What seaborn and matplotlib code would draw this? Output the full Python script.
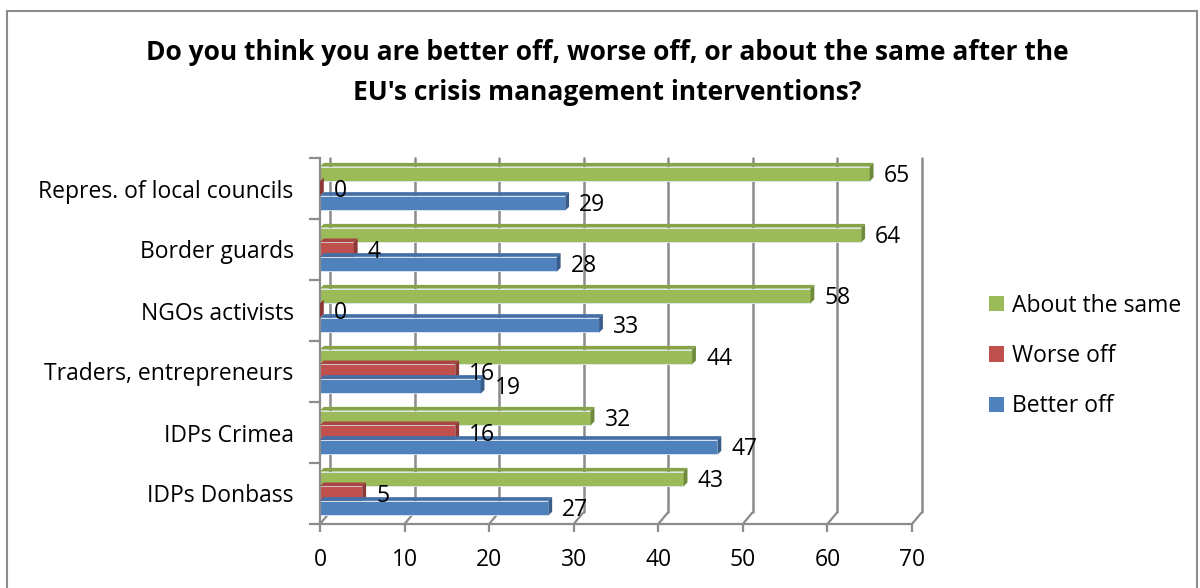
import numpy as np
import pandas as pd
import matplotlib
matplotlib.use("Agg")
import matplotlib.pyplot as plt
from matplotlib.patches import Polygon, Rectangle
import seaborn as sns

# Survey groups (top to bottom) and share of answers per group (%)
groups = ["Repres. of local councils", "Border guards", "NGOs activists",
          "Traders, entrepreneurs", "IDPs Crimea", "IDPs Donbass"]
about_same = [65, 64, 58, 44, 32, 43]
worse_off = [0, 4, 0, 16, 16, 5]
better_off = [29, 28, 33, 19, 47, 27]
answers = ["About the same", "Worse off", "Better off"]
x_ticks = [0, 10, 20, 30, 40, 50, 60, 70]

face = {"About the same": "#9BBB59", "Worse off": "#C0504D", "Better off": "#4F81BD"}
topc = {"About the same": "#86A34A", "Worse off": "#A84542", "Better off": "#426FA6"}
dark = {"About the same": "#6E8A3A", "Worse off": "#8C3836", "Better off": "#385D8A"}

df = pd.DataFrame({
    "group": groups * 3,
    "answer": [answers[0]] * 6 + [answers[1]] * 6 + [answers[2]] * 6,
    "value": about_same + worse_off + better_off,
})

sns.set_theme(style="white")
plt.rcParams["font.family"] = ["Open Sans", "DejaVu Sans"]
plt.rcParams["text.color"] = "black"
plt.rcParams["xtick.labelcolor"] = "black"
plt.rcParams["ytick.labelcolor"] = "black"

FS = 16.5

fig = plt.figure(figsize=(12, 5.88), dpi=100)
ax = fig.add_axes([320 / 1200, 1 - 524 / 588, 592 / 1200, 366 / 588])

sns.barplot(data=df, y="group", x="value", hue="answer", hue_order=answers,
            order=groups, palette=face, orient="h", width=0.72, gap=0,
            saturation=1, edgecolor="#dfe8f2", linewidth=0.6, ax=ax,
            legend=True)

ax.set_xlim(0, 70)
ax.set_ylim(len(groups) - 0.5, -0.5)
ax.set_xlabel("")
ax.set_ylabel("")

# pseudo-3D depth offsets (data units along x, axes fraction along y)
px_per_unit = 592 / 70
depth_x = 10 / px_per_unit
depth_y = 12 / 366

grid_col = "#8c8c8c"
xt = ax.get_xaxis_transform()
for t in x_ticks:
    ax.plot([t, t + depth_x], [0, depth_y], color=grid_col, lw=1.6,
            transform=xt, zorder=0.5, clip_on=False, solid_capstyle="butt")
    ax.plot([t + depth_x, t + depth_x], [depth_y, 1.0], color=grid_col, lw=1.8,
            transform=xt, zorder=0.5, clip_on=False)

# bar depth: top face and end cap, plus value labels
cap_dx = 0.45
cap_dy = 0.06
for cont, ans in zip(ax.containers, answers):
    for bar, val in zip(cont.patches, cont.datavalues):
        x0 = bar.get_x()
        x1 = x0 + bar.get_width()
        y0 = bar.get_y()
        h = bar.get_height()
        top = Polygon([(x0, y0), (x0 + cap_dx, y0 - cap_dy),
                       (x1 + cap_dx, y0 - cap_dy), (x1, y0)],
                      closed=True, facecolor=topc[ans], edgecolor="none",
                      zorder=3, clip_on=False)
        side = Polygon([(x1, y0), (x1 + cap_dx, y0 - cap_dy),
                        (x1 + cap_dx, y0 + h - cap_dy), (x1, y0 + h)],
                       closed=True, facecolor=dark[ans], edgecolor="none",
                       zorder=3, clip_on=False)
        ax.add_patch(top)
        ax.add_patch(side)
        ax.annotate(f"{val:g}", xy=(x1, y0 + h / 2), xytext=(10, -1.5),
                    textcoords="offset points", ha="left", va="center",
                    fontsize=FS, color="black", zorder=5)

# axes frame
for s in ["top", "right"]:
    ax.spines[s].set_visible(False)
for s in ["left", "bottom"]:
    ax.spines[s].set_visible(True)
    ax.spines[s].set_color(grid_col)
    ax.spines[s].set_linewidth(1.6)

ax.set_xticks(x_ticks)
ax.set_xticklabels([str(t) for t in x_ticks], fontsize=FS)
ax.tick_params(axis="x", direction="out", length=6, width=1.6, color=grid_col,
               bottom=True, pad=11)
ax.set_yticks(range(len(groups)))
ax.set_yticklabels(groups, fontsize=FS)
ax.tick_params(axis="y", length=0, pad=19)
# boundary ticks between categories
ax.set_yticks(np.arange(-0.5, len(groups), 1.0), minor=True)
ax.tick_params(axis="y", which="minor", direction="out", length=8, width=1.6,
               color=grid_col, left=True)
ax.grid(False)

leg = ax.legend(loc="center left", bbox_to_anchor=(980 / 1200, 1 - 356 / 588),
                bbox_transform=fig.transFigure, frameon=False, fontsize=FS,
                handlelength=0.65, handleheight=0.65, handletextpad=0.35,
                labelspacing=1.15, borderaxespad=0)
for hnd in leg.legend_handles:
    hnd.set_edgecolor("none")

fig.text(0.506, 1 - 52 / 588, "Do you think you are better off, worse off, or about the same after the",
         ha="center", va="center", fontsize=19, fontweight="bold")
fig.text(0.506, 1 - 92 / 588, "EU's crisis management interventions?",
         ha="center", va="center", fontsize=19, fontweight="bold")

# chart border
fig.patches.append(Rectangle((7 / 1200, -0.05), 1190 / 1200, 1.05 - 11 / 588,
                             transform=fig.transFigure, fill=False,
                             edgecolor="#8c8c8c", linewidth=1.5))

fig.savefig("out.png", dpi=100)
